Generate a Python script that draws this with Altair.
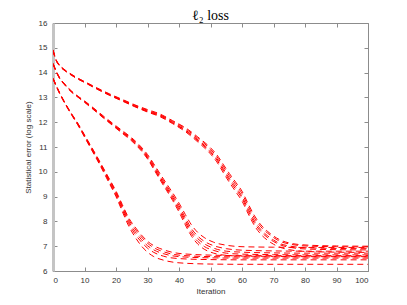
import altair as alt
import pandas as pd

# ---- data ----
xa = [0, 2, 4, 6, 8, 10, 12, 14, 16, 18, 20, 22, 24, 26, 28, 30, 32, 35, 40, 50, 60, 80, 100]
a1 = [13.74, 13.18, 12.70, 12.27, 11.86, 11.40, 10.94, 10.48, 10.00, 9.50, 9.00, 8.40, 7.82, 7.38, 7.02, 6.76, 6.58, 6.44, 6.33, 6.28, 6.27, 6.27, 6.27]
a2 = [13.75, 13.19, 12.71, 12.29, 11.88, 11.43, 10.97, 10.52, 10.04, 9.55, 9.06, 8.48, 7.92, 7.50, 7.18, 6.92, 6.75, 6.60, 6.50, 6.46, 6.45, 6.45, 6.45]
a3 = [13.76, 13.20, 12.72, 12.30, 11.90, 11.45, 11.00, 10.55, 10.08, 9.60, 9.12, 8.55, 8.00, 7.60, 7.28, 7.02, 6.85, 6.70, 6.58, 6.53, 6.52, 6.52, 6.52]
a4 = [13.77, 13.21, 12.73, 12.31, 11.92, 11.47, 11.03, 10.58, 10.12, 9.65, 9.18, 8.62, 8.08, 7.70, 7.38, 7.12, 6.94, 6.78, 6.64, 6.58, 6.57, 6.57, 6.57]
a5 = [13.78, 13.22, 12.74, 12.32, 11.93, 11.49, 11.05, 10.61, 10.15, 9.69, 9.23, 8.68, 8.15, 7.78, 7.46, 7.20, 7.02, 6.86, 6.71, 6.64, 6.62, 6.62, 6.62]

xb = [0, 1, 2, 4, 6, 8, 10, 13, 16, 19, 22, 25, 28, 30, 32, 34, 36, 38, 40, 42, 44, 46, 48, 51, 55, 60, 70, 80, 100]
b1 = [14.34, 14.03, 13.78, 13.46, 13.20, 13.00, 12.80, 12.49, 12.17, 11.86, 11.55, 11.24, 10.85, 10.52, 10.10, 9.67, 9.26, 8.84, 8.38, 7.86, 7.40, 7.08, 6.88, 6.72, 6.63, 6.60, 6.59, 6.58, 6.58]
b2 = [14.35, 14.04, 13.79, 13.47, 13.21, 13.01, 12.82, 12.51, 12.19, 11.88, 11.58, 11.27, 10.89, 10.56, 10.15, 9.73, 9.32, 8.91, 8.47, 7.96, 7.50, 7.19, 6.99, 6.83, 6.72, 6.68, 6.66, 6.65, 6.65]
b3 = [14.36, 14.05, 13.80, 13.48, 13.22, 13.02, 12.83, 12.52, 12.20, 11.90, 11.60, 11.30, 10.92, 10.60, 10.20, 9.78, 9.38, 8.98, 8.55, 8.05, 7.60, 7.30, 7.10, 6.92, 6.80, 6.76, 6.73, 6.72, 6.72]
b4 = [14.37, 14.06, 13.81, 13.49, 13.23, 13.03, 12.84, 12.54, 12.22, 11.92, 11.63, 11.33, 10.96, 10.65, 10.26, 9.85, 9.45, 9.06, 8.64, 8.15, 7.70, 7.40, 7.20, 7.02, 6.90, 6.84, 6.81, 6.80, 6.80]
b5 = [14.38, 14.07, 13.82, 13.50, 13.24, 13.04, 12.86, 12.56, 12.25, 11.95, 11.66, 11.37, 11.00, 10.70, 10.32, 9.92, 9.53, 9.15, 8.74, 8.28, 7.85, 7.55, 7.35, 7.16, 7.04, 6.98, 6.96, 6.95, 6.95]

xc = [0, 1, 2, 4, 6, 8, 10, 14, 18, 22, 26, 30, 34, 38, 42, 46, 50, 52, 54, 56, 58, 60, 62, 64, 66, 68, 70, 72, 75, 80, 90, 100]
c1 = [14.88, 14.48, 14.28, 14.05, 13.88, 13.73, 13.60, 13.33, 13.08, 12.85, 12.62, 12.41, 12.22, 11.94, 11.62, 11.20, 10.72, 10.40, 9.98, 9.57, 9.20, 8.82, 8.30, 7.82, 7.48, 7.25, 7.08, 6.96, 6.86, 6.79, 6.76, 6.75]
c2 = [14.89, 14.49, 14.29, 14.06, 13.89, 13.74, 13.61, 13.34, 13.09, 12.87, 12.64, 12.43, 12.25, 11.97, 11.66, 11.25, 10.79, 10.48, 10.07, 9.66, 9.30, 8.93, 8.40, 7.92, 7.59, 7.36, 7.19, 7.06, 6.96, 6.89, 6.86, 6.85]
c3 = [14.90, 14.50, 14.30, 14.07, 13.90, 13.75, 13.62, 13.35, 13.10, 12.88, 12.65, 12.45, 12.27, 11.99, 11.69, 11.29, 10.84, 10.54, 10.14, 9.74, 9.39, 9.01, 8.49, 8.01, 7.67, 7.43, 7.25, 7.11, 7.01, 6.94, 6.91, 6.90]
c4 = [14.91, 14.51, 14.31, 14.08, 13.91, 13.76, 13.63, 13.37, 13.12, 12.90, 12.68, 12.48, 12.30, 12.03, 11.74, 11.35, 10.91, 10.62, 10.23, 9.84, 9.49, 9.12, 8.60, 8.12, 7.78, 7.54, 7.35, 7.20, 7.09, 7.01, 6.98, 6.97]
c5 = [14.92, 14.52, 14.32, 14.09, 13.92, 13.77, 13.64, 13.38, 13.14, 12.92, 12.70, 12.51, 12.33, 12.06, 11.78, 11.40, 10.97, 10.69, 10.31, 9.93, 9.58, 9.22, 8.70, 8.22, 7.86, 7.61, 7.41, 7.26, 7.13, 7.05, 7.01, 7.00]

x_ticks = [0, 10, 20, 30, 40, 50, 60, 70, 80, 90, 100]
y_ticks = [6, 7, 8, 9, 10, 11, 12, 13, 14, 15, 16]

series = [("a1", xa, a1), ("a2", xa, a2), ("a3", xa, a3), ("a4", xa, a4), ("a5", xa, a5),
          ("b1", xb, b1), ("b2", xb, b2), ("b3", xb, b3), ("b4", xb, b4), ("b5", xb, b5),
          ("c1", xc, c1), ("c2", xc, c2), ("c3", xc, c3), ("c4", xc, c4), ("c5", xc, c5)]

rows = []
for name, xs, vs in series:
    for i, (xv, vv) in enumerate(zip(xs, vs)):
        rows.append({"run": name, "it": xv, "err": vv, "order": i})
df = pd.DataFrame(rows)

W, H = 315, 248
AX = "#8c8c8c"
LAB = "#333333"

chart = alt.Chart(df).mark_line(
    color="#ff0000", strokeWidth=1, strokeDash=[6, 4], interpolate="monotone", clip=True
).encode(
    x=alt.X("it:Q", scale=alt.Scale(domain=[0, 100], nice=False),
            axis=alt.Axis(values=x_ticks, title="Iteration", ticks=False, grid=True,
                          gridColor=AX, gridWidth=1, gridDash=[4, H - 8, 4, 0],
                          domainColor=AX, labelPadding=5, titlePadding=3)),
    y=alt.Y("err:Q", scale=alt.Scale(domain=[6, 16], nice=False, zero=False),
            axis=alt.Axis(values=y_ticks, title="Statistical error (log scale)", ticks=False, grid=True,
                          gridColor=AX, gridWidth=1, gridDash=[4, W - 8, 4, 0],
                          domainColor="#c4c4c4", domainWidth=3, labelPadding=6, titlePadding=6)),
    detail="run:N",
    order="order:Q",
).properties(
    width=W, height=H,
    title=alt.TitleParams("ℓ₂ loss", font="Liberation Serif, DejaVu Serif", fontSize=14,
                          fontWeight="normal", color="black", offset=-4, anchor="middle"),
    autosize=alt.AutoSizeParams(type="none"),
    padding={"left": 45, "top": 15, "right": 30, "bottom": 30},
).configure_view(
    stroke=AX, strokeWidth=1
).configure_axis(
    labelFont="Liberation Sans", labelFontSize=8, labelColor=LAB,
    titleFont="Liberation Sans", titleFontSize=8, titleColor=LAB, titleFontWeight="normal",
)

chart.save("out.html", embed_options={"renderer": "svg", "actions": False})
